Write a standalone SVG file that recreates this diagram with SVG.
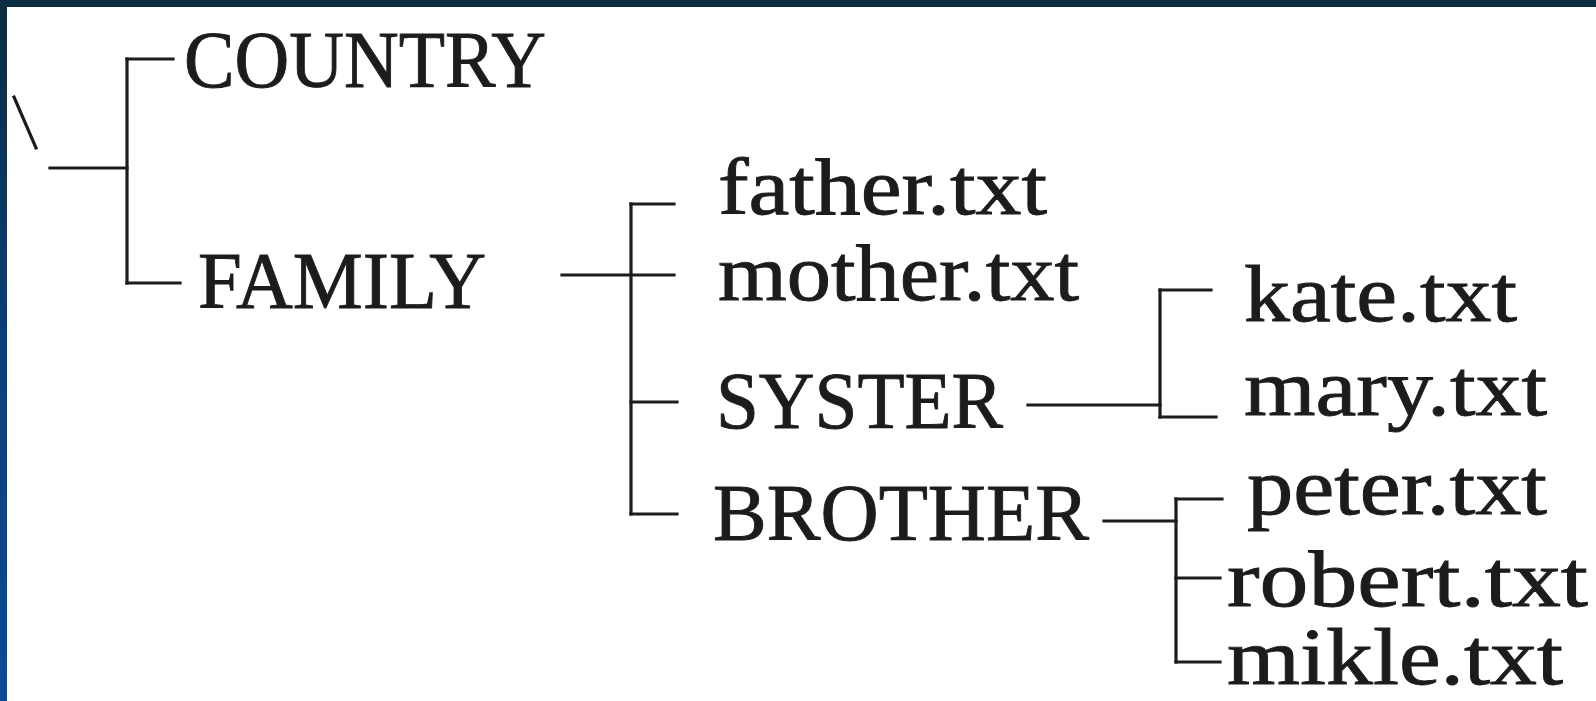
<svg xmlns="http://www.w3.org/2000/svg" width="1596" height="701" viewBox="0 0 1596 701">
<defs>
<linearGradient id="lg" x1="0" y1="0" x2="0" y2="1">
<stop offset="0" stop-color="#0b2c40"/>
<stop offset="0.5" stop-color="#0b3f78"/>
<stop offset="1" stop-color="#0a4a98"/>
</linearGradient>
<style>
.t{font-family:"Liberation Serif","DejaVu Serif",serif;font-size:80px;fill:#1c1c1c;stroke:#1c1c1c;stroke-width:0.9px;}
.c line{stroke:#1c1c1c;stroke-width:3.2;stroke-linecap:square;}
</style>
</defs>
<rect x="0" y="0" width="1596" height="701" fill="#ffffff"/>
<rect x="0" y="0" width="1596" height="7" fill="#0b2c40"/>
<rect x="0" y="0" width="7" height="701" fill="url(#lg)"/>
<g id="connectors" class="c">
<line x1="14" y1="97" x2="36" y2="148"/>
<line x1="50" y1="168" x2="127" y2="168"/>
<line x1="127" y1="59" x2="127" y2="283"/>
<line x1="127" y1="59" x2="173" y2="59"/>
<line x1="127" y1="283" x2="180" y2="283"/>
<line x1="562" y1="275" x2="674" y2="275"/>
<line x1="631" y1="204" x2="631" y2="514"/>
<line x1="631" y1="204" x2="674" y2="204"/>
<line x1="631" y1="402" x2="677" y2="402"/>
<line x1="631" y1="514" x2="677" y2="514"/>
<line x1="1028" y1="405" x2="1160" y2="405"/>
<line x1="1160" y1="290" x2="1160" y2="417"/>
<line x1="1160" y1="290" x2="1211" y2="290"/>
<line x1="1160" y1="417" x2="1216" y2="417"/>
<line x1="1104" y1="521" x2="1176" y2="521"/>
<line x1="1176" y1="499" x2="1176" y2="662"/>
<line x1="1176" y1="499" x2="1222" y2="499"/>
<line x1="1176" y1="578" x2="1220" y2="578"/>
<line x1="1176" y1="662" x2="1220" y2="662"/>
</g>
<g id="country"><text class="t" x="184" y="87" textLength="362" lengthAdjust="spacingAndGlyphs">COUNTRY</text></g>
<g id="family"><text class="t" x="198" y="308" textLength="288" lengthAdjust="spacingAndGlyphs">FAMILY</text></g>
<g id="father"><text class="t" x="718" y="214" textLength="329" lengthAdjust="spacingAndGlyphs">father.txt</text></g>
<g id="mother"><text class="t" x="718" y="300" textLength="361" lengthAdjust="spacingAndGlyphs">mother.txt</text></g>
<g id="syster"><text class="t" x="716" y="428" textLength="287" lengthAdjust="spacingAndGlyphs">SYSTER</text></g>
<g id="brother"><text class="t" x="713" y="540" textLength="376" lengthAdjust="spacingAndGlyphs">BROTHER</text></g>
<g id="kate"><text class="t" x="1244" y="321" textLength="273" lengthAdjust="spacingAndGlyphs">kate.txt</text></g>
<g id="mary"><text class="t" x="1244" y="415" textLength="303" lengthAdjust="spacingAndGlyphs">mary.txt</text></g>
<g id="peter"><text class="t" x="1247" y="514" textLength="300" lengthAdjust="spacingAndGlyphs">peter.txt</text></g>
<g id="robert"><text class="t" x="1227" y="606" textLength="361" lengthAdjust="spacingAndGlyphs">robert.txt</text></g>
<g id="mikle"><text class="t" x="1227" y="684" textLength="336" lengthAdjust="spacingAndGlyphs">mikle.txt</text></g>
</svg>
